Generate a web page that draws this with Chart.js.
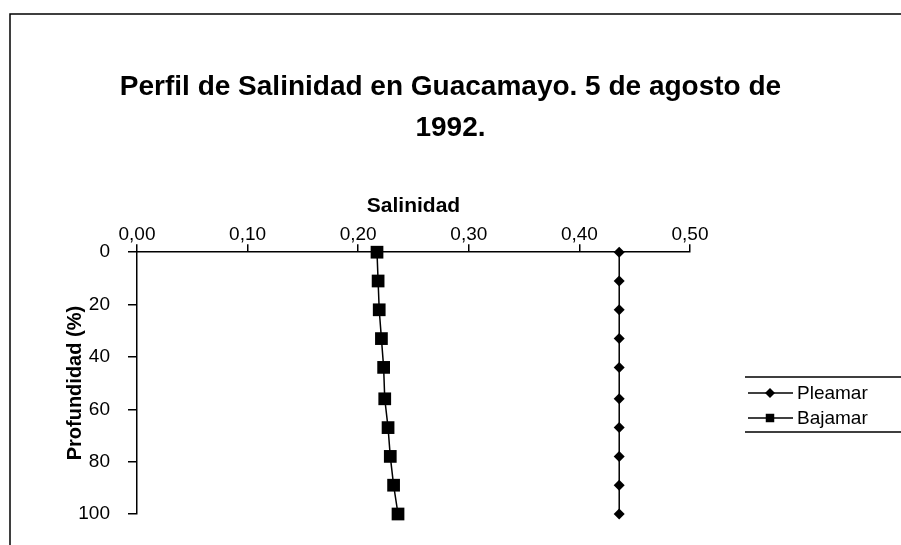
<!DOCTYPE html>
<html>
<head>
<meta charset="utf-8">
<script src="https://cdn.jsdelivr.net/npm/chart.js@4/dist/chart.umd.min.js"></script>
<style>
    html, body { margin: 0; padding: 0; background: #fff; }
    #wrap { width: 901px; height: 545px; }
</style>
</head>
<body>
<div id="wrap"><canvas id="perfil" width="901" height="545"></canvas></div>
<script>
// datos
const profundidad = [0, 11, 22, 33, 44, 56, 67, 78, 89, 100];
const pleamar = [0.436, 0.436, 0.436, 0.436, 0.436, 0.436, 0.436, 0.436, 0.436, 0.436];
const bajamar = [0.217, 0.218, 0.219, 0.221, 0.223, 0.224, 0.227, 0.229, 0.232, 0.236];
const ticksSalinidad = [0, 0.1, 0.2, 0.3, 0.4, 0.5];
const ticksProfundidad = [0, 20, 40, 60, 80, 100];

const FONT = '"Liberation Sans", Arial, sans-serif';

function puntos(valores) {
    return valores.map((v, i) => ({ x: v, y: profundidad[i] }));
}

// marco del gráfico (borde izquierdo y superior)
const marco = {
    id: 'marco',
    beforeDraw(chart) {
        const ctx = chart.ctx;
        ctx.save();
        ctx.strokeStyle = '#000';
        ctx.lineWidth = 1.5;
        ctx.beginPath();
        ctx.moveTo(10, chart.height);
        ctx.lineTo(10, 14);
        ctx.lineTo(chart.width, 14);
        ctx.stroke();
        ctx.restore();
    }
};

// leyenda con línea y marcador
const leyenda = {
    id: 'leyenda',
    afterDraw(chart) {
        const ctx = chart.ctx;
        const x0 = chart.chartArea.right + 55;
        const top = 377;
        ctx.save();
        ctx.strokeStyle = '#000';
        ctx.lineWidth = 1.5;
        ctx.beginPath();
        ctx.moveTo(x0, top);
        ctx.lineTo(chart.width, top);
        ctx.moveTo(x0, top + 55);
        ctx.lineTo(chart.width, top + 55);
        ctx.stroke();

        chart.data.datasets.forEach((ds, i) => {
            const y = top + 16 + i * 25;
            ctx.strokeStyle = ds.borderColor;
            ctx.lineWidth = ds.borderWidth;
            ctx.beginPath();
            ctx.moveTo(x0 + 3, y);
            ctx.lineTo(x0 + 48, y);
            ctx.stroke();
            ctx.fillStyle = ds.pointBackgroundColor;
            Chart.helpers.drawPoint(ctx, {
                pointStyle: ds.pointStyle,
                radius: ds.legendRadius,
                rotation: 0,
                borderWidth: 0
            }, x0 + 25, y);
            ctx.fillStyle = '#000';
            ctx.font = '19px ' + FONT;
            ctx.textBaseline = 'middle';
            ctx.fillText(ds.label, x0 + 52, y + 1);
        });
        ctx.restore();
    }
};

const ctx = document.getElementById('perfil').getContext('2d');
new Chart(ctx, {
    type: 'scatter',
    data: {
        datasets: [{
            label: 'Pleamar',
            data: puntos(pleamar),
            showLine: true,
            clip: false,
            borderColor: '#000',
            borderWidth: 1.5,
            pointStyle: 'rectRot',
            pointRadius: 5.5,
            legendRadius: 5,
            pointBackgroundColor: '#000',
            pointBorderWidth: 0
        }, {
            label: 'Bajamar',
            data: puntos(bajamar),
            showLine: true,
            clip: false,
            borderColor: '#000',
            borderWidth: 1.5,
            pointStyle: 'rect',
            pointRadius: 9,
            legendRadius: 6,
            pointBackgroundColor: '#000',
            pointBorderWidth: 0
        }]
    },
    options: {
        responsive: false,
        animation: false,
        layout: {
            padding: { left: 0, right: 0, top: 0, bottom: 31 }
        },
        plugins: {
            legend: { display: false },
            tooltip: { enabled: false },
            title: {
                display: true,
                text: ['Perfil de Salinidad en Guacamayo. 5 de agosto de', '1992.'],
                color: '#000',
                font: { family: FONT, size: 28, weight: 'bold', lineHeight: 1.45 },
                padding: { top: 67, bottom: 41 }
            }
        },
        scales: {
            x: {
                type: 'linear',
                position: 'top',
                min: 0,
                max: 0.5,
                afterBuildTicks(scale) {
                    scale.ticks = ticksSalinidad.map(v => ({ value: v }));
                },
                afterFit(scale) {
                    scale.height = 63;
                },
                ticks: {
                    color: '#000',
                    padding: -2,
                    font: { family: FONT, size: 19 },
                    callback: v => v.toFixed(2).replace('.', ',')
                },
                grid: {
                    drawOnChartArea: false,
                    drawTicks: true,
                    tickLength: 8,
                    color: '#000',
                    lineWidth: 1.5
                },
                border: { color: '#000', width: 1.5 },
                title: {
                    display: true,
                    text: 'Salinidad',
                    color: '#000',
                    font: { family: FONT, size: 21, weight: 'bold' },
                    padding: { top: 4, bottom: 4 }
                }
            },
            y: {
                type: 'linear',
                reverse: true,
                min: 0,
                max: 100,
                afterBuildTicks(scale) {
                    scale.ticks = ticksProfundidad.map(v => ({ value: v }));
                },
                afterFit(scale) {
                    scale.width = 137;
                },
                ticks: {
                    color: '#000',
                    padding: 18,
                    font: { family: FONT, size: 19 }
                },
                grid: {
                    drawOnChartArea: false,
                    drawTicks: true,
                    tickLength: 9,
                    color: '#000',
                    lineWidth: 1.5
                },
                border: { color: '#000', width: 1.5 },
                title: {
                    display: true,
                    text: 'Profundidad (%)',
                    color: '#000',
                    font: { family: FONT, size: 20, weight: 'bold' },
                    padding: { top: 63, bottom: 4 }
                }
            },
            // eje vacío a la derecha que reserva el espacio de la leyenda
            derecha: {
                type: 'linear',
                position: 'right',
                display: true,
                afterFit(scale) {
                    scale.width = 211;
                },
                ticks: { display: false },
                grid: { display: false },
                border: { display: false }
            }
        }
    },
    plugins: [marco, leyenda]
});
</script>
</body>
</html>
